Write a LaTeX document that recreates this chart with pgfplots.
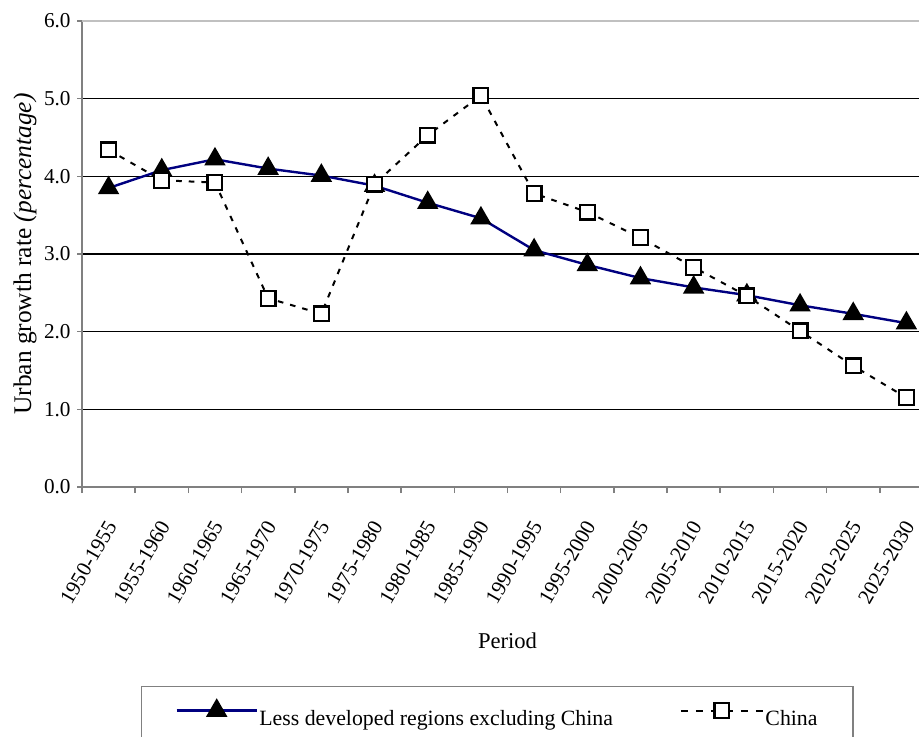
\documentclass[border=0pt]{standalone}
\usepackage{fontspec}
\setmainfont{Liberation Serif}
\usepackage{pgfplots}
\pgfplotsset{compat=1.18}

\definecolor{navyline}{HTML}{000080}
\definecolor{axisgray}{HTML}{808080}
\definecolor{topgray}{HTML}{C0C0C0}

\pgfplotsset{
    ldr image/.style={legend image code/.code={%
        \draw[mark repeat=2,mark phase=2,##1] plot coordinates {(0pt,7.5pt) (20pt,7.5pt) (40pt,7.5pt)};}},
    china image/.style={legend image code/.code={%
        \draw[mark repeat=2,mark phase=2,##1,dash pattern=on 3.5pt off 4pt] plot coordinates {(0pt,7.5pt) (20.5pt,7.5pt) (41pt,7.5pt)};}},
}

% urban growth rates by period, categories plotted at 0..15
\pgfplotstableread{
x  ldr   china
0  3.85  4.34
1  4.08  3.95
2  4.22  3.92
3  4.10  2.43
4  4.01  2.23
5  3.88  3.90
6  3.66  4.53
7  3.46  5.04
8  3.05  3.78
9  2.86  3.54
10 2.69  3.21
11 2.57  2.83
12 2.47  2.46
13 2.34  2.01
14 2.23  1.56
15 2.11  1.15
}\growth

\begin{document}
\begin{tikzpicture}
\begin{axis}[
    at={(0,0)}, anchor=south west,
    scale only axis,
    width=425.5pt, height=233pt,
    xmin=-0.5, xmax=15.5,
    ymin=0, ymax=6,
    axis x line*=bottom,
    axis y line*=left,
    axis line style={axisgray, line width=1pt},
    tick align=outside,
    major tick length=2.5pt,
    minor tick length=3pt,
    xtick={0,...,15},
    xticklabels={1950-1955,1955-1960,1960-1965,1965-1970,1970-1975,1975-1980,1980-1985,1985-1990,1990-1995,1995-2000,2000-2005,2005-2010,2010-2015,2015-2020,2020-2025,2025-2030},
    minor xtick={-0.5,0.5,...,15.5},
    major x tick style={draw=none},
    minor x tick style={axisgray, line width=0.8pt},
    ytick={0,1,...,5},
    extra y ticks={6},
    extra y tick style={major grid style={topgray, line width=1pt}},
    ytick style={axisgray, line width=0.8pt},
    ymajorgrids,
    major grid style={black, line width=0.6pt},
    /pgf/number format/.cd, fixed, fixed zerofill, precision=1, assume math mode=true,
    /pgfplots/.cd,
    tick label style={font=\fontsize{10.6}{13}\selectfont, black},
    yticklabel style={anchor=east, inner sep=0pt, xshift=-3pt},
    xticklabel style={xshift=1.5pt, yshift=-15pt, rotate=60, anchor=east, inner sep=0pt},
    ylabel={Urban growth rate \textit{(percentage)}},
    ylabel style={at={(axis description cs:-0.067,0.5)}, anchor=center, font=\fontsize{12.7}{15}\selectfont},
    xlabel={Period},
    xlabel style={at={(axis description cs:0.5,-0.3294)}, anchor=center, font=\fontsize{11.3}{13}\selectfont},
    legend columns=2,
    legend style={
        at={(axis description cs:0.069,-0.426)}, anchor=north west,
        draw=axisgray, line width=0.8pt,
        inner xsep=17pt, inner ysep=7.15pt,
        cells={anchor=base west},
        nodes={inner sep=0.75pt, font=\fontsize{10.9}{13}\selectfont},
        /tikz/every even column/.append style={column sep=32.75pt},
    },
]
\addplot[navyline, line width=1.2pt, mark=triangle*, mark size=5pt,
    mark options={black, fill=black, solid}, ldr image]
    table[x=x, y=ldr] {\growth};
\addlegendentry{Less developed regions excluding China}

\addplot[black, line width=1pt, dash pattern=on 2.8pt off 3.5pt,
    mark=square*, mark size=3.7pt,
    mark options={black, fill=white, solid, line width=1.1pt}, china image]
    table[x=x, y=china] {\growth};
\addlegendentry{China}
\end{axis}
\pgfresetboundingbox
\useasboundingbox (-41pt,-124.5pt) rectangle (418.5pt,243.5pt);
\end{tikzpicture}
\end{document}
